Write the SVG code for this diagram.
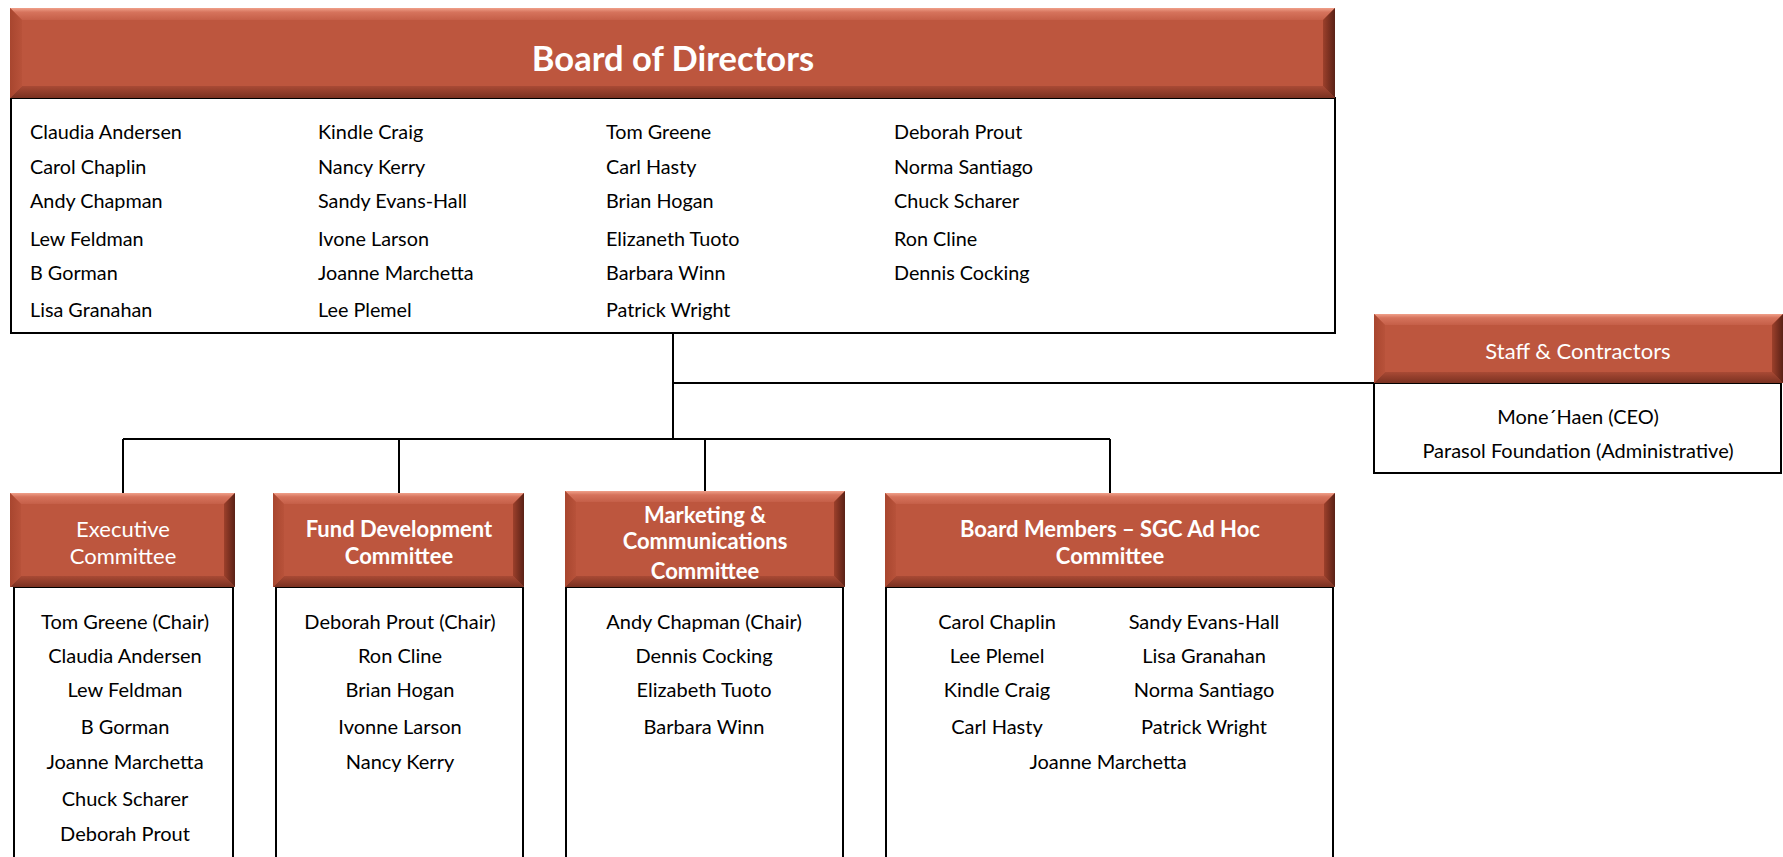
<svg xmlns="http://www.w3.org/2000/svg" width="1783" height="857" viewBox="0 0 1783 857">
<defs>
<linearGradient id="gTop" x1="0" y1="0" x2="0" y2="1"><stop offset="0" stop-color="#F0A08A"/><stop offset="0.35" stop-color="#D6735C"/><stop offset="1" stop-color="#C55F48"/></linearGradient>
<linearGradient id="gBot" x1="0" y1="0" x2="0" y2="1"><stop offset="0" stop-color="#A94A35"/><stop offset="1" stop-color="#7A3121"/></linearGradient>
<linearGradient id="gLeft" x1="0" y1="0" x2="1" y2="0"><stop offset="0" stop-color="#A8462F"/><stop offset="1" stop-color="#B8523A"/></linearGradient>
<linearGradient id="gRight" x1="0" y1="0" x2="1" y2="0"><stop offset="0" stop-color="#9C402B"/><stop offset="1" stop-color="#5A2116"/></linearGradient>
</defs>
<style>
.face{fill:#BD563E}
.bt{fill:url(#gTop)}.bb{fill:url(#gBot)}.bl{fill:url(#gLeft)}.br{fill:url(#gRight)}
.body{fill:#fff;stroke:#000;stroke-width:2}
.conn{fill:none;stroke:#000;stroke-width:2}
text{font-family:Lato,"Liberation Sans",sans-serif}
.h{fill:#fff;font-size:22px;text-anchor:middle}
.hb{fill:#fff;font-size:22px;font-weight:bold;text-anchor:middle}
.title{fill:#fff;font-size:34.5px;font-weight:bold;text-anchor:middle}
.n{fill:#000;font-size:19.8px}
.c{fill:#000;font-size:20px;text-anchor:middle}
</style>

<g id="connectors">
<path class="conn" d="M673 333V439M673 383H1374M123 439H1110M123 439V493M399 439V493M705 439V491M1110 439V493"/>
</g>

<g id="board">
<rect class="body" x="11" y="98" width="1324" height="235"/>
<rect class="face" x="10" y="8" width="1325" height="90"/>
<polygon class="bt" points="10,8 1335,8 1323,20 22,20"/>
<polygon class="bb" points="10,98 1335,98 1323,86 22,86"/>
<polygon class="bl" points="10,8 22,20 22,86 10,98"/>
<polygon class="br" points="1335,8 1323,20 1323,86 1335,98"/>
<text class="title" x="673" y="71">Board of Directors</text>
<text class="n" x="30" y="139">Claudia Andersen</text>
<text class="n" x="30" y="174">Carol Chaplin</text>
<text class="n" x="30" y="208">Andy Chapman</text>
<text class="n" x="30" y="246">Lew Feldman</text>
<text class="n" x="30" y="280">B Gorman</text>
<text class="n" x="30" y="317">Lisa Granahan</text>
<text class="n" x="318" y="139">Kindle Craig</text>
<text class="n" x="318" y="174">Nancy Kerry</text>
<text class="n" x="318" y="208">Sandy Evans-Hall</text>
<text class="n" x="318" y="246">Ivone Larson</text>
<text class="n" x="318" y="280">Joanne Marchetta</text>
<text class="n" x="318" y="317">Lee Plemel</text>
<text class="n" x="606" y="139">Tom Greene</text>
<text class="n" x="606" y="174">Carl Hasty</text>
<text class="n" x="606" y="208">Brian Hogan</text>
<text class="n" x="606" y="246">Elizaneth Tuoto</text>
<text class="n" x="606" y="280">Barbara Winn</text>
<text class="n" x="606" y="317">Patrick Wright</text>
<text class="n" x="894" y="139">Deborah Prout</text>
<text class="n" x="894" y="174">Norma Santiago</text>
<text class="n" x="894" y="208">Chuck Scharer</text>
<text class="n" x="894" y="246">Ron Cline</text>
<text class="n" x="894" y="280">Dennis Cocking</text>
</g>

<g id="staff">
<rect class="body" x="1374" y="383" width="407" height="90"/>
<rect class="face" x="1374" y="314" width="409" height="69"/>
<polygon class="bt" points="1374,314 1783,314 1772,325 1385,325"/>
<polygon class="bb" points="1374,383 1783,383 1772,372 1385,372"/>
<polygon class="bl" points="1374,314 1385,325 1385,372 1374,383"/>
<polygon class="br" points="1783,314 1772,325 1772,372 1783,383"/>
<text class="h" x="1578" y="359">Staff &amp; Contractors</text>
<text class="c" x="1578" y="424">Mone´Haen (CEO)</text>
<text class="c" x="1578" y="458">Parasol Foundation (Administrative)</text>
</g>

<g id="executive">
<rect class="body" x="14" y="587" width="219" height="290"/>
<rect class="face" x="10" y="493" width="225" height="94"/>
<polygon class="bt" points="10,493 235,493 224,504 21,504"/>
<polygon class="bb" points="10,587 235,587 224,576 21,576"/>
<polygon class="bl" points="10,493 21,504 21,576 10,587"/>
<polygon class="br" points="235,493 224,504 224,576 235,587"/>
<text class="h" x="123" y="537">Executive</text>
<text class="h" x="123" y="564">Committee</text>
<text class="c" x="125" y="629">Tom Greene (Chair)</text>
<text class="c" x="125" y="663">Claudia Andersen</text>
<text class="c" x="125" y="697">Lew Feldman</text>
<text class="c" x="125" y="734">B Gorman</text>
<text class="c" x="125" y="769">Joanne Marchetta</text>
<text class="c" x="125" y="806">Chuck Scharer</text>
<text class="c" x="125" y="841">Deborah Prout</text>
</g>

<g id="fund">
<rect class="body" x="276" y="587" width="247" height="290"/>
<rect class="face" x="273" y="493" width="251" height="94"/>
<polygon class="bt" points="273,493 524,493 513,504 284,504"/>
<polygon class="bb" points="273,587 524,587 513,576 284,576"/>
<polygon class="bl" points="273,493 284,504 284,576 273,587"/>
<polygon class="br" points="524,493 513,504 513,576 524,587"/>
<text class="hb" x="399" y="537">Fund Development</text>
<text class="hb" x="399" y="564">Committee</text>
<text class="c" x="400" y="629">Deborah Prout (Chair)</text>
<text class="c" x="400" y="663">Ron Cline</text>
<text class="c" x="400" y="697">Brian Hogan</text>
<text class="c" x="400" y="734">Ivonne Larson</text>
<text class="c" x="400" y="769">Nancy Kerry</text>
</g>

<g id="marketing">
<rect class="body" x="566" y="587" width="277" height="290"/>
<rect class="face" x="565" y="491" width="280" height="96"/>
<polygon class="bt" points="565,491 845,491 834,502 576,502"/>
<polygon class="bb" points="565,587 845,587 834,576 576,576"/>
<polygon class="bl" points="565,491 576,502 576,576 565,587"/>
<polygon class="br" points="845,491 834,502 834,576 845,587"/>
<text class="hb" x="705" y="523">Marketing &amp;</text>
<text class="hb" x="705" y="549">Communications</text>
<text class="hb" x="705" y="579">Committee</text>
<text class="c" x="704" y="629">Andy Chapman (Chair)</text>
<text class="c" x="704" y="663">Dennis Cocking</text>
<text class="c" x="704" y="697">Elizabeth Tuoto</text>
<text class="c" x="704" y="734">Barbara Winn</text>
</g>

<g id="sgc">
<rect class="body" x="886" y="587" width="447" height="290"/>
<rect class="face" x="885" y="493" width="450" height="94"/>
<polygon class="bt" points="885,493 1335,493 1324,504 896,504"/>
<polygon class="bb" points="885,587 1335,587 1324,576 896,576"/>
<polygon class="bl" points="885,493 896,504 896,576 885,587"/>
<polygon class="br" points="1335,493 1324,504 1324,576 1335,587"/>
<text class="hb" x="1110" y="537">Board Members – SGC Ad Hoc</text>
<text class="hb" x="1110" y="564">Committee</text>
<text class="c" x="997" y="629">Carol Chaplin</text>
<text class="c" x="997" y="663">Lee Plemel</text>
<text class="c" x="997" y="697">Kindle Craig</text>
<text class="c" x="997" y="734">Carl Hasty</text>
<text class="c" x="1204" y="629">Sandy Evans-Hall</text>
<text class="c" x="1204" y="663">Lisa Granahan</text>
<text class="c" x="1204" y="697">Norma Santiago</text>
<text class="c" x="1204" y="734">Patrick Wright</text>
<text class="c" x="1108" y="769">Joanne Marchetta</text>
</g>
</svg>
